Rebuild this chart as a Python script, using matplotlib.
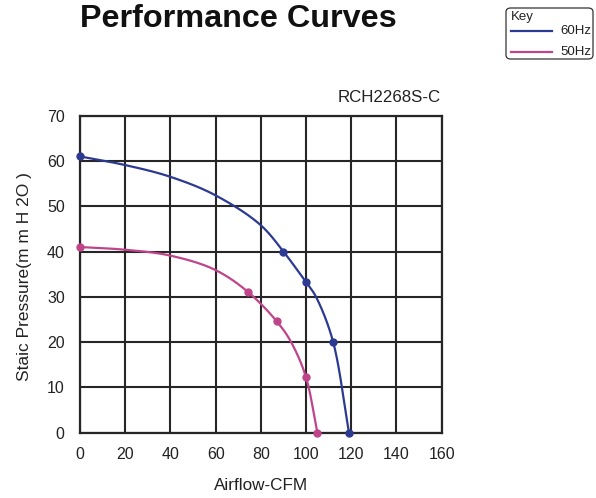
import numpy as np
import matplotlib
matplotlib.use("Agg")
import matplotlib.pyplot as plt
from matplotlib.lines import Line2D
from matplotlib.patches import FancyBboxPatch

# ---- data ----
x_ticks = [0, 20, 40, 60, 80, 100, 120, 140, 160]
y_ticks = [0, 10, 20, 30, 40, 50, 60, 70]

# measured points (markers)
hz60_x = [0, 90, 100, 112, 119]
hz60_y = [61, 40, 33.2, 20, 0]
hz50_x = [0, 74.5, 87, 100, 105]
hz50_y = [41, 31, 24.6, 12.2, 0]

# curve shape
hz60_curve_x = [0, 20, 40, 60, 80, 90, 100, 104.4, 112, 119]
hz60_curve_y = [61, 59.1, 56.5, 52.4, 45.8, 40, 33.2, 30, 20, 0]
hz50_curve_x = [0, 20, 40, 60, 74.5, 87, 93.4, 100, 105]
hz50_curve_y = [41, 40.4, 39.1, 35.9, 31, 24.6, 20, 12.2, 0]

BLUE = "#2D3A92"
PINK = "#C0448A"
GRID = "#262626"
FONT = ["Liberation Sans", "DejaVu Sans"]


def catmull_rom(xs, ys, n=40, alpha=0.5):
    P = np.column_stack([xs, ys]).astype(float)
    P = np.vstack([2 * P[0] - P[1], P, 2 * P[-1] - P[-2]])
    out = []
    for i in range(1, len(P) - 2):
        p0, p1, p2, p3 = P[i - 1], P[i], P[i + 1], P[i + 2]
        t0 = 0.0
        t1 = t0 + np.linalg.norm(p1 - p0) ** alpha
        t2 = t1 + np.linalg.norm(p2 - p1) ** alpha
        t3 = t2 + np.linalg.norm(p3 - p2) ** alpha
        t = np.linspace(t1, t2, n)[:, None]
        A1 = (t1 - t) / (t1 - t0) * p0 + (t - t0) / (t1 - t0) * p1
        A2 = (t2 - t) / (t2 - t1) * p1 + (t - t1) / (t2 - t1) * p2
        A3 = (t3 - t) / (t3 - t2) * p2 + (t - t2) / (t3 - t2) * p3
        B1 = (t2 - t) / (t2 - t0) * A1 + (t - t0) / (t2 - t0) * A2
        B2 = (t3 - t) / (t3 - t1) * A2 + (t - t1) / (t3 - t1) * A3
        C = (t2 - t) / (t2 - t1) * B1 + (t - t1) / (t2 - t1) * B2
        out.append(C if i == len(P) - 3 else C[:-1])
    C = np.vstack(out)
    return C[:, 0], C[:, 1]


plt.rcParams["font.family"] = FONT

fig = plt.figure(figsize=(5.96, 4.98), dpi=100)
ax = fig.add_axes([80 / 596, 1 - 432.7 / 498, (441.7 - 80) / 596, (432.7 - 115.7) / 498])

ax.set_xlim(0, 160)
ax.set_ylim(0, 70)
ax.set_xticks(x_ticks)
ax.set_yticks(y_ticks)
ax.set_xticklabels([str(v) for v in x_ticks])
ax.set_yticklabels([str(v) for v in y_ticks])
ax.tick_params(length=0, labelsize=11.5, colors="#222222")
ax.tick_params(axis="x", pad=10)
ax.tick_params(axis="y", pad=11)
ax.grid(True, color=GRID, linewidth=1.5)
ax.set_axisbelow(True)
for s in ax.spines.values():
    s.set_color(GRID)
    s.set_linewidth(1.6)

cx, cy = catmull_rom(hz60_curve_x, hz60_curve_y)
ax.plot(cx, cy, color=BLUE, lw=1.6, clip_on=False, zorder=3)
ax.plot(hz60_x, hz60_y, "o", color=BLUE, ms=5, clip_on=False, zorder=4)

cx, cy = catmull_rom(hz50_curve_x, hz50_curve_y)
ax.plot(cx, cy, color=PINK, lw=1.6, clip_on=False, zorder=3)
ax.plot(hz50_x, hz50_y, "o", color=PINK, ms=5, clip_on=False, zorder=4)

fig.text(261 / 596, 1 - 485 / 498, "Airflow-CFM", ha="center", va="center",
         fontsize=12.3, color="#222222")
fig.text(25 / 596, 1 - 276.5 / 498, "Staic Pressure(m m H 2O )", ha="center", va="center",
         rotation=90, fontsize=12.5, color="#222222")

fig.text(440.5 / 596, 1 - 97.5 / 498, "RCH2268S-C", ha="right", va="center",
         fontsize=12.2, color="#222222")
fig.text(80 / 596, 1 - 19 / 498, "Performance Curves", ha="left", va="center",
         fontsize=23.3, fontweight="bold", color="#111111")

# key box
box = FancyBboxPatch((506 / 596, 1 - 59 / 498), (593 - 506) / 596, (59 - 8) / 498,
                     boxstyle="round,pad=0,rounding_size=0.008", transform=fig.transFigure,
                     fill=False, edgecolor="#333333", linewidth=0.9)
fig.patches.append(box)
fig.text(511 / 596, 1 - 17 / 498, "Key", ha="left", va="center", fontsize=9.5, color="#222222")
fig.lines.append(Line2D([511 / 596, 552 / 596], [1 - 31 / 498, 1 - 31 / 498],
                        transform=fig.transFigure, color=BLUE, lw=1.6))
fig.lines.append(Line2D([511 / 596, 552 / 596], [1 - 52 / 498, 1 - 52 / 498],
                        transform=fig.transFigure, color=PINK, lw=1.6))
fig.text(560 / 596, 1 - 31 / 498, "60Hz", ha="left", va="center", fontsize=9.5, color="#222222")
fig.text(560 / 596, 1 - 52 / 498, "50Hz", ha="left", va="center", fontsize=9.5, color="#222222")

fig.savefig("out.png", dpi=100)
